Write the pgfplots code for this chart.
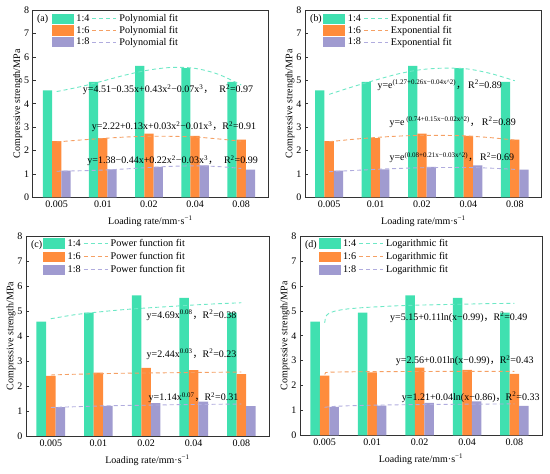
\documentclass[border=0pt]{standalone}
\usepackage{fontspec}
\setmainfont{Liberation Serif}
\newfontfamily\cjk{Noto Sans CJK SC}
\usepackage{pgfplots}
\pgfplotsset{compat=1.18}

\definecolor{cA}{RGB}{64,224,176}
\definecolor{cB}{RGB}{255,140,60}
\definecolor{cC}{RGB}{160,155,208}
\definecolor{dA}{RGB}{110,232,198}
\definecolor{dB}{RGB}{245,160,100}
\definecolor{dC}{RGB}{176,172,222}

\newcommand{\cm}{{\cjk ，}}
\newcommand{\lf}{\fontsize{10.2}{12}\selectfont}
\tikzset{eq/.style={anchor=west, font=\fontsize{10}{12}\selectfont, inner sep=0pt},
         eqb/.style={anchor=base west, font=\fontsize{10}{12}\selectfont, inner sep=0pt}}

\pgfplotsset{
  panel/.style={
    scale only axis, xmin=-0.52, xmax=4.58, ymin=0, ymax=8,
    xtick={0,1,2,3,4}, xticklabels={0.005,0.01,0.02,0.04,0.08},
    ytick={0,1,...,8},
    tick pos=left, tick align=inside, major tick length=3pt,
    axis line style={line width=0.8pt, black!80},
    every tick/.style={black!80, line width=0.6pt},
    /pgf/number format/assume math mode=true,
    tick label style={font=\fontsize{10}{12}\selectfont},
    label style={font=\fontsize{10}{12}\selectfont},
    xlabel={Loading rate/mm·s\textsuperscript{−1}},
    ylabel={Compressive strength/MPa},
    xlabel style={at={([yshift=-24pt]rel axis cs:0.5,0)}, anchor=center},
    ylabel style={at={([xshift=-15pt]rel axis cs:0,0.5)}, anchor=center},
    legend columns=2,
    legend cell align=left,
    legend style={draw=none, fill=none, anchor=north west,
      inner sep=0pt, row sep=1pt, column sep=1.5pt, nodes={inner sep=1pt}},
  },
  barA/.style={ybar, bar width=0.2, bar shift=-0.2, fill=cA, draw=none,
    legend image code/.code={\fill[cA] (0pt,-5.2pt) rectangle (22pt,5.2pt);}},
  barB/.style={ybar, bar width=0.2, bar shift=0, fill=cB, draw=none,
    legend image code/.code={\fill[cB] (0pt,-5.2pt) rectangle (22pt,5.2pt);}},
  barC/.style={ybar, bar width=0.2, bar shift=0.2, fill=cC, draw=none,
    legend image code/.code={\fill[cC] (0pt,-5.2pt) rectangle (22pt,5.2pt);}},
  fitA/.style={dA, line width=0.9pt, dash pattern=on 4pt off 3pt,
    legend image code/.code={\draw[dA, line width=0.9pt, dash pattern=on 4pt off 3pt] (0pt,0pt) -- (24pt,0pt);}},
  fitB/.style={dB, line width=0.9pt, dash pattern=on 4pt off 3pt,
    legend image code/.code={\draw[dB, line width=0.9pt, dash pattern=on 4pt off 3pt] (0pt,0pt) -- (24pt,0pt);}},
  fitC/.style={dC, line width=0.9pt, dash pattern=on 4pt off 3pt,
    legend image code/.code={\draw[dC, line width=0.9pt, dash pattern=on 4pt off 3pt] (0pt,0pt) -- (24pt,0pt);}},
}

\begin{document}
\begin{tikzpicture}
\useasboundingbox (0,0) rectangle (550pt,474pt);

% (a)
\begin{axis}[panel, at={(32.7pt,276.5pt)}, anchor=south west, width=235.3pt, height=187.5pt,
  legend style={at={(rel axis cs:0.081,0.982)}}]
\addplot[barA] coordinates {(0,4.57) (1,4.93) (2,5.62) (3,5.52) (4,4.93)};
\addlegendentry{\lf 1:4}
\addplot[fitA, smooth] coordinates {(0,4.52) (0.5,4.72) (1,4.97) (1.5,5.23) (2,5.44) (2.5,5.55) (3,5.51) (3.5,5.26) (4,4.80)};
\addlegendentry{\lf Polynomial fit}
\addplot[barB] coordinates {(0,2.40) (1,2.53) (2,2.72) (3,2.63) (4,2.47)};
\addlegendentry{\lf 1:6}
\addplot[fitB, smooth] coordinates {(0,2.37) (0.5,2.45) (1,2.52) (1.5,2.58) (2,2.61) (2.5,2.61) (3,2.58) (3.5,2.50) (4,2.40)};
\addlegendentry{\lf Polynomial fit}
\addplot[barC] coordinates {(0,1.15) (1,1.20) (2,1.31) (3,1.37) (4,1.19)};
\addlegendentry{\lf 1:8}
\addplot[fitC, smooth] coordinates {(0,1.12) (0.5,1.14) (1,1.17) (1.5,1.22) (2,1.28) (2.5,1.33) (3,1.35) (3.5,1.32) (4,1.24)};
\addlegendentry{\lf Polynomial fit}
\node[anchor=west, font=\fontsize{10}{12}\selectfont, inner sep=0pt] at (rel axis cs:0.018,0.95) {(a)};
\node[eq] at (axis cs:0.563,4.59) {y=4.51−0.35x+0.43x\textsuperscript{2}−0.07x\textsuperscript{3}\cm\hspace{6pt}R\textsuperscript{2}=0.97};
\node[eq] at (axis cs:0.758,3.02) {y=2.22+0.13x+0.03x\textsuperscript{2}−0.01x\textsuperscript{3}\cm R\textsuperscript{2}=0.91};
\node[eq] at (axis cs:0.663,1.57) {y=1.38−0.44x+0.22x\textsuperscript{2}−0.03x\textsuperscript{3}\cm\hspace{6pt}R\textsuperscript{2}=0.99};
\end{axis}

% (b)
\begin{axis}[panel, at={(305pt,276.5pt)}, anchor=south west, width=236.7pt, height=187.5pt,
  legend style={at={(rel axis cs:0.077,0.982)}}]
\addplot[barA] coordinates {(0,4.57) (1,4.93) (2,5.62) (3,5.52) (4,4.93)};
\addlegendentry{\lf 1:4}
\addplot[fitA, smooth] coordinates {(0,4.40) (0.5,4.72) (1,5.01) (1.5,5.28) (2,5.46) (2.5,5.52) (3,5.48) (3.5,5.28) (4,4.98)};
\addlegendentry{\lf Exponential fit}
\addplot[barB] coordinates {(0,2.40) (1,2.53) (2,2.72) (3,2.63) (4,2.47)};
\addlegendentry{\lf 1:6}
\addplot[fitB, smooth] coordinates {(0,2.38) (0.5,2.48) (1,2.56) (1.5,2.62) (2,2.65) (2.5,2.65) (3,2.62) (3.5,2.55) (4,2.45)};
\addlegendentry{\lf Exponential fit}
\addplot[barC] coordinates {(0,1.15) (1,1.20) (2,1.31) (3,1.37) (4,1.19)};
\addlegendentry{\lf 1:8}
\addplot[fitC, smooth] coordinates {(0,1.10) (0.5,1.15) (1,1.20) (1.5,1.24) (2,1.27) (2.5,1.28) (3,1.28) (3.5,1.25) (4,1.20)};
\addlegendentry{\lf Exponential fit}
\node[anchor=west, font=\fontsize{10}{12}\selectfont, inner sep=0pt] at (rel axis cs:0.021,0.95) {(b)};
\node[eqb] at (axis cs:1.038,4.66) {y=e\textsuperscript{(1.27+0.26x−0.04x\textasciicircum 2)}\cm\hspace{2pt}R\textsuperscript{2}=0.89};
\node[eqb] at (axis cs:1.297,3.09) {y=e\textsuperscript{\ (0.74+0.15x−0.02x\textasciicircum 2)}\cm\hspace{2pt}R\textsuperscript{2}=0.89};
\node[eqb] at (axis cs:1.297,1.57) {y=e\textsuperscript{(0.08+0.21x−0.03x\textasciicircum 2)}\cm\hspace{2pt}R\textsuperscript{2}=0.69};
\end{axis}

% (c)
\begin{axis}[panel, at={(26pt,38pt)}, anchor=south west, width=243pt, height=200pt,
  legend style={at={(rel axis cs:0.07,0.99)}, row sep=2.5pt}]
\addplot[barA] coordinates {(0,4.57) (1,4.93) (2,5.62) (3,5.52) (4,4.93)};
\addlegendentry{\lf 1:4}
\addplot[fitA, smooth] coordinates {(0,4.69) (0.5,4.85) (1,4.96) (1.5,5.05) (2,5.12) (2.5,5.18) (3,5.24) (3.5,5.29) (4,5.33)};
\addlegendentry{\lf Power function fit}
\addplot[barB] coordinates {(0,2.40) (1,2.53) (2,2.72) (3,2.63) (4,2.47)};
\addlegendentry{\lf 1:6}
\addplot[fitB, smooth] coordinates {(0,2.44) (0.5,2.47) (1,2.49) (1.5,2.51) (2,2.52) (2.5,2.53) (3,2.54) (3.5,2.55) (4,2.56)};
\addlegendentry{\lf Power function fit}
\addplot[barC] coordinates {(0,1.15) (1,1.20) (2,1.31) (3,1.37) (4,1.19)};
\addlegendentry{\lf 1:8}
\addplot[fitC, smooth] coordinates {(0,1.14) (0.5,1.17) (1,1.20) (1.5,1.22) (2,1.23) (2.5,1.25) (3,1.26) (3.5,1.27) (4,1.28)};
\addlegendentry{\lf Power function fit}
\node[anchor=west, font=\fontsize{10}{12}\selectfont, inner sep=0pt] at (rel axis cs:0.02,0.953) {(c)};
\node[eq] at (axis cs:2.01,4.83) {y=4.69x\textsuperscript{0.08}\cm R\textsuperscript{2}=0.38};
\node[eq] at (axis cs:2.01,3.27) {y=2.44x\textsuperscript{0.03}\cm R\textsuperscript{2}=0.23};
\node[eq] at (axis cs:2.05,1.53) {y=1.14x\textsuperscript{0.07}\cm R\textsuperscript{2}=0.31};
\end{axis}

% (d)
\begin{axis}[panel, at={(300pt,38.5pt)}, anchor=south west, width=242pt, height=199.5pt,
  legend style={at={(rel axis cs:0.076,0.99)}, row sep=2.5pt}]
\addplot[barA] coordinates {(0,4.57) (1,4.93) (2,5.62) (3,5.52) (4,4.93)};
\addlegendentry{\lf 1:4}
\addplot[fitA] coordinates {(0,4.52) (0.02,4.76) (0.05,4.84) (0.1,4.91) (0.2,4.98) (0.35,5.04) (0.5,5.08) (0.75,5.12) (1,5.15) (1.5,5.20) (2,5.23) (2.5,5.25) (3,5.27) (3.5,5.29) (4,5.30)};
\addlegendentry{\lf Logarithmic fit}
\addplot[barB] coordinates {(0,2.40) (1,2.53) (2,2.72) (3,2.63) (4,2.47)};
\addlegendentry{\lf 1:6}
\addplot[fitB] coordinates {(0,2.45) (0.02,2.525) (0.05,2.53) (0.1,2.538) (0.2,2.544) (0.5,2.553) (1,2.56) (2,2.567) (3,2.571) (4,2.574)};
\addlegendentry{\lf Logarithmic fit}
\addplot[barC] coordinates {(0,1.15) (1,1.20) (2,1.31) (3,1.37) (4,1.19)};
\addlegendentry{\lf 1:8}
\addplot[fitC] coordinates {(0,1.13) (0.1,1.153) (0.25,1.172) (0.5,1.192) (1,1.215) (1.5,1.23) (2,1.24) (3,1.256) (4,1.267)};
\addlegendentry{\lf Logarithmic fit}
\node[anchor=west, font=\fontsize{10}{12}\selectfont, inner sep=0pt] at (rel axis cs:0.02,0.953) {(d)};
\node[eq] at (axis cs:1.376,4.73) {y=5.15+0.11ln(x−0.99)\cm R\textsuperscript{2}=0.49};
\node[eq] at (axis cs:1.497,2.99) {y=2.56+0.01ln(x−0.99)\cm R\textsuperscript{2}=0.43};
\node[eq] at (axis cs:1.623,1.53) {y=1.21+0.04ln(x−0.86)\cm R\textsuperscript{2}=0.33};
\end{axis}
\end{tikzpicture}
\end{document}
